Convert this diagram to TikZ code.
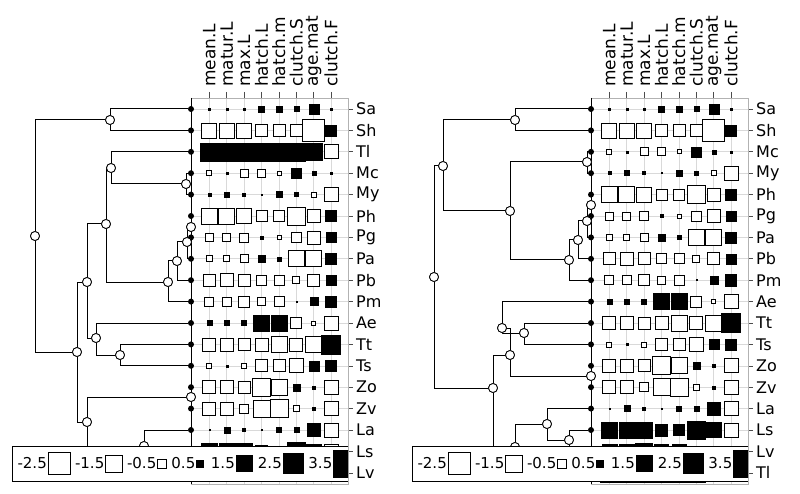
\documentclass[tikz,border=0pt]{standalone}
\usepackage{fontspec}
\setmainfont{DejaVu Sans}
\begin{document}
\begin{tikzpicture}[x=1pt,y=-1pt,
  tree/.style={line width=1pt},
  inode/.style={circle,draw,fill=white,line width=0.8pt,inner sep=0pt,minimum size=9pt},
  tip/.style={circle,fill=black,inner sep=0pt,minimum size=6pt},
  sqb/.style={fill=black,draw=black,line width=0.4pt},
  sqw/.style={fill=white,draw=black,line width=0.7pt},
  grid/.style={draw=black!15,line width=0.6pt},
  rowlab/.style={anchor=west,font=\fontsize{16}{16}\selectfont,inner sep=0pt},
  collab/.style={anchor=west,rotate=90,font=\fontsize{17}{17}\selectfont,inner sep=0pt},
  leglab/.style={font=\fontsize{15}{15}\selectfont,inner sep=0pt,anchor=east}]
\useasboundingbox (0,0) rectangle (800,494);
\fill[white] (0,0) rectangle (800,494);
% data
\def\dSa{b/2,b/2,b/2,b/6,b/6,b/5,b/10,b/2}
\def\dSh{w/15,w/15,w/15,w/12,w/12,w/12,w/22,b/11}
\def\dTl{b/18,b/18,b/18,b/18,b/18,b/18,b/17,w/14}
\def\dMc{w/5,b/2,w/8,w/8,w/4,b/10,b/4,b/2}
\def\dMy{b/3,b/5,b/3,b/1,b/6,b/4,w/5,w/14}
\def\dPh{w/16,w/16,w/15,w/11,w/11,w/18,w/13,b/11}
\def\dPg{w/8,w/8,w/9,b/3,w/4,w/10,w/13,b/10}
\def\dPa{w/6,w/6,w/8,b/7,b/4,w/16,w/16,b/11}
\def\dPb{w/12,w/13,w/12,w/10,w/10,w/7,w/12,b/10}
\def\dPm{w/9,w/9,w/11,w/8,w/10,b/1,b/8,b/11}
\def\dAe{b/5,b/5,b/5,b/16,b/16,w/11,w/4,w/14}
\def\dTt{w/13,w/13,w/12,w/13,w/16,w/13,w/16,b/19}
\def\dTs{w/5,b/2,w/5,w/12,w/12,w/14,b/10,b/11}
\def\dZo{w/13,w/13,w/12,w/18,w/16,b/7,b/3,w/14}
\def\dZv{w/13,w/13,w/9,w/17,w/18,w/6,b/3,w/14}
\def\dLa{b/1,b/6,b/3,b/1,b/5,b/5,b/13,w/14}
\def\dLs{b/16,b/16,b/16,b/12,b/11,b/18,b/15,w/14}
\def\dLv{b/15,b/15,b/17,b/14,b/14,b/8,b/4,w/10}
% panels
\foreach \P/\ox/\order in {L/0/{Sa,Sh,Tl,Mc,My,Ph,Pg,Pa,Pb,Pm,Ae,Tt,Ts,Zo,Zv,La,Ls,Lv},
                           R/400/{Sa,Sh,Mc,My,Ph,Pg,Pa,Pb,Pm,Ae,Tt,Ts,Zo,Zv,La,Ls,Lv,Tl}}{
  \begin{scope}[xshift=\ox]
  \foreach \c in {0,...,7}{\draw[grid] (209.3+17.4*\c,98) -- (209.3+17.4*\c,484);
    \draw[black!70,line width=0.6pt] (209.3+17.4*\c,92) -- (209.3+17.4*\c,98);}
  \foreach \nm [count=\r from 0] in \order {
    \pgfmathsetmacro\yy{109+21.4*\r}
    \draw[grid] (191,\yy) -- (348,\yy);
    \draw[black!70,line width=0.6pt] (348,\yy) -- (353,\yy);
    \node[rowlab] (\P lab\nm) at (356,\yy) {\nm};
  }
  \draw[black!30,line width=0.7pt] (191,98) -- (348,98) -- (348,484) -- (191,484);
  \foreach \nm [count=\r from 0] in \order {
    \pgfmathsetmacro\yy{109+21.4*\r}
    \expandafter\let\expandafter\rowdat\csname d\nm\endcsname
    \foreach \t/\s [count=\c from 0] in \rowdat {
      \pgfmathsetmacro\xx{209.3+17.4*\c}
      \pgfmathsetmacro\hh{\s/2}
      \draw[sq\t] (\xx-\hh,\yy-\hh) rectangle (\xx+\hh,\yy+\hh);
    }
  }
  \draw[line width=1pt] (191,98) -- (191,484);
  \foreach \lab [count=\c from 0] in {mean.L,matur.L,max.L,hatch.L,hatch.m,clutch.S,age.mat,clutch.F}
    \node[collab] (\P col\c) at (209.3+17.4*\c,87) {\lab};
  \foreach \nm [count=\r from 0] in \order {
    \pgfmathsetmacro\yy{109+21.4*\r}
    \node[tip] (\P\nm) at (191,\yy) {};
  }
  \end{scope}
}
% left tree
\begin{scope}[tree]
\node[inode] (a) at (110,120) {};
\node[inode] (b) at (77,352) {};
\node[inode] (c) at (87,282) {};
\node[inode] (d) at (87,422) {};
\node[inode] (e) at (106,224) {};
\node[inode] (f) at (96,338) {};
\node[inode] (g) at (111,168) {};
\node[inode] (h) at (168,282) {};
\node[inode] (i) at (186,184) {};
\node[inode] (j) at (177,261) {};
\node[inode] (k) at (187,242) {};
\node[inode] (l) at (191,227) {};
\node[inode] (m) at (120,355) {};
\node[inode] (n) at (191,397) {};
\node[inode] (o) at (144,446) {};
\coordinate (p) at (180,462);
\node[inode] (r) at (35,236) {};
\draw (r) |- (a); \draw (r) |- (b);
\draw (a) |- (LSa); \draw (a) |- (LSh);
\draw (b) |- (c); \draw (b) |- (d);
\draw (c) |- (e); \draw (c) |- (f);
\draw (e) |- (g); \draw (e) |- (h);
\draw (g) |- (LTl); \draw (g) |- (i);
\draw (i) |- (LMc); \draw (i) |- (LMy);
\draw (h) |- (j); \draw (h) |- (LPm);
\draw (j) |- (k); \draw (j) |- (LPb);
\draw (k) |- (l); \draw (k) |- (LPa);
\draw (l) |- (LPh); \draw (l) |- (LPg);
\draw (f) |- (LAe); \draw (f) |- (m);
\draw (m) |- (LTt); \draw (m) |- (LTs);
\draw (d) |- (n); \draw (d) |- (o);
\draw (n) |- (LZo); \draw (n) |- (LZv);
\draw (o) |- (LLa); \draw (o) |- (p);
\draw (p) |- (LLs); \draw (p) |- (LLv);
\foreach \q in {r,a,b,c,d,e,f,g,h,i,j,k,l,m,n,o} \node[inode] at (\q) {};
\end{scope}
% right tree
\begin{scope}[tree]
\node[inode] (RA) at (443,166) {};
\node[inode] (RB) at (493,388) {};
\node[inode] (RC) at (515,120) {};
\node[inode] (RD) at (510,211) {};
\node[inode] (RE) at (587,162) {};
\node[inode] (RF) at (569,260) {};
\node[inode] (RG) at (578,240) {};
\node[inode] (RH) at (587,221) {};
\node[inode] (RI) at (591,205) {};
\node[inode] (RJ) at (510,355) {};
\node[inode] (RK) at (515,447) {};
\node[inode] (RL) at (502,328) {};
\node[inode] (RM) at (591,376) {};
\node[inode] (RN) at (524,333) {};
\node[inode] (RO) at (547,424) {};
\node[inode] (RP) at (569,440) {};
\node[inode] (RR) at (434,277) {};
\draw (RR) |- (RA); \draw (RR) |- (RB);
\draw (RA) |- (RC); \draw (RA) |- (RD);
\draw (RC) |- (RSa); \draw (RC) |- (RSh);
\draw (RD) |- (RE); \draw (RD) |- (RF);
\draw (RE) |- (RMc); \draw (RE) |- (RMy);
\draw (RF) |- (RG); \draw (RF) |- (RPm);
\draw (RG) |- (RH); \draw (RG) |- (RPb);
\draw (RH) |- (RI); \draw (RH) |- (RPa);
\draw (RI) |- (RPh); \draw (RI) |- (RPg);
\draw (RB) |- (RJ); \draw (RB) |- (RK);
\draw (RJ) |- (RL); \draw (RJ) |- (RM);
\draw (RL) |- (RAe); \draw (RL) |- (RN);
\draw (RN) |- (RTt); \draw (RN) |- (RTs);
\draw (RM) |- (RZo); \draw (RM) |- (RZv);
\draw (RK) |- (RO); \draw (RK) |- (RTl);
\draw (RO) |- (RLa); \draw (RO) |- (RP);
\draw (RP) |- (RLs); \draw (RP) |- (RLv);
\foreach \q in {RR,RA,RB,RC,RD,RE,RF,RG,RH,RI,RJ,RK,RL,RM,RN,RO,RP} \node[inode] at (\q) {};
\end{scope}
% legends
\foreach \P/\ox in {L/0,R/400}{
  \begin{scope}[xshift=\ox]
  \fill[white] (12,446) rectangle (348,481);
  \begin{scope}
  \clip (12,446) rectangle (348,481);
  \foreach \lab/\cx/\s/\t [count=\k] in {-2.5/59/22/w,-1.5/114/17/w,-0.5/162/9/w,0.5/200/7/b,1.5/244/16/b,2.5/293/20/b,3.5/347/27/b}{
    \pgfmathsetmacro\hh{\s/2}
    \draw[sq\t] (\cx-\hh,463.5-\hh) rectangle (\cx+\hh,463.5+\hh);
    \node[leglab] (\P leg\k) at (\cx-\hh-1,463.5) {\lab};
  }
  \end{scope}
  \draw[line width=0.8pt] (348,446) -- (12,446) -- (12,481) -- (348,481);
  \end{scope}
}
\end{tikzpicture}
\end{document}
